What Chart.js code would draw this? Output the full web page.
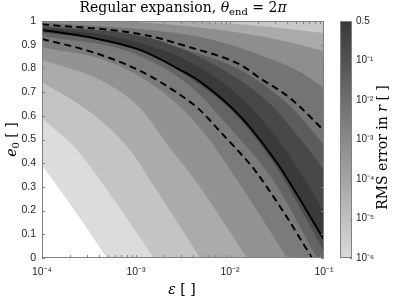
<!DOCTYPE html>
<html>
<head>
<meta charset="utf-8">
<script src="https://cdn.jsdelivr.net/npm/chart.js@4.4.1/dist/chart.umd.min.js"></script>
<style>
html, body { margin: 0; padding: 0; background: #fff; }
#wrap { position: relative; width: 399px; height: 299px; }
#main { position: absolute; left: 0; top: 0; }
#cbar { position: absolute; left: 330px; top: 0; }
</style>
</head>
<body>
<div id="wrap">
  <canvas id="main" width="399" height="299"></canvas>
  <canvas id="cbar" width="69" height="299"></canvas>
</div>
<script>
// axis ticks
const xTicks = [1e-4, 1e-3, 1e-2, 1e-1];
const xTickLabels = ['10⁻⁴', '10⁻³', '10⁻²', '10⁻¹'];
const yTicks = [0, 0.1, 0.2, 0.3, 0.4, 0.5, 0.6, 0.7, 0.8, 0.9, 1];
const yTickLabels = ['0', '0.1', '0.2', '0.3', '0.4', '0.5', '0.6', '0.7', '0.8', '0.9', '1'];
const cbTickLabels = ['10⁻⁶', '10⁻⁵', '10⁻⁴', '10⁻³', '10⁻²', '10⁻¹', '0.5'];

// solid and dashed curves (epsilon, e0)
const solidEps = [1e-4, 3.24e-4, 1.1e-3, 2.94e-3, 4.8e-3, 1.28e-2, 3.4e-2, 4.68e-2, 0.1];
const solidE0 = [0.962, 0.931, 0.878, 0.794, 0.744, 0.598, 0.383, 0.295, 0.077];
const dashHiEps = [1e-4, 1.1e-3, 3.75e-3, 1.28e-2, 2.08e-2, 4.35e-2, 0.1];
const dashHiE0 = [0.986, 0.945, 0.889, 0.816, 0.759, 0.675, 0.538];
const dashLoEps = [1e-4, 3.24e-4, 1.1e-3, 2.94e-3, 4.8e-3, 7.83e-3, 1.28e-2, 1.76e-2, 3.66e-2, 7.45e-2];
const dashLoE0 = [0.924, 0.872, 0.790, 0.689, 0.624, 0.534, 0.443, 0.380, 0.198, 0];

// filled contour boundaries, lower left to upper right
const l1Eps = [1e-4, 2.24e-4, 4.9e-4];
const l1E0 = [0.392, 0.198, 0];
const l2Eps = [1e-4, 2.36e-4, 4.14e-4, 1.55e-3];
const l2E0 = [0.591, 0.456, 0.329, 0];
const l3Eps = [1e-4, 3.24e-4, 8.63e-4, 1.41e-3, 4.8e-3];
const l3E0 = [0.743, 0.616, 0.456, 0.329, 0];
const l4Eps = [1e-4, 4.14e-4, 1.1e-3, 2.3e-3, 4.24e-3, 1.52e-2];
const l4E0 = [0.835, 0.751, 0.633, 0.464, 0.329, 0];
const l5Eps = [1e-4, 5.29e-4, 1.8e-3, 4.8e-3, 1.19e-2, 4.04e-2];
const l5E0 = [0.890, 0.827, 0.709, 0.549, 0.329, 0];
const l6Eps = [1e-4, 8.63e-4, 3.75e-3, 1.0e-2, 2.87e-2, 8.43e-2];
const l6E0 = [0.937, 0.869, 0.726, 0.549, 0.329, 0];
const l7Eps = [1e-4, 4.14e-4, 1.41e-3, 3.75e-3, 1.13e-2, 3.01e-2, 5.56e-2, 0.1];
const l7E0 = [0.951, 0.920, 0.861, 0.759, 0.608, 0.392, 0.211, 0.025];
const u7Eps = [1e-4, 6.76e-4, 3.75e-3, 1.28e-2, 3.4e-2, 7.1e-2, 0.1];
const u7E0 = [0.970, 0.928, 0.827, 0.679, 0.489, 0.295, 0.194];
const u6Eps = [1e-4, 1.41e-3, 7.83e-3, 2.67e-2, 6.28e-2, 0.1];
const u6E0 = [0.977, 0.928, 0.802, 0.650, 0.477, 0.371];
const u5Eps = [1e-4, 1.1e-3, 3.75e-3, 1.28e-2, 4.35e-2, 0.1];
const u5E0 = [0.981, 0.937, 0.873, 0.793, 0.641, 0.477];
const u4Eps = [1e-4, 1.1e-3, 4.8e-3, 2.08e-2, 5.56e-2, 0.1];
const u4E0 = [0.994, 0.966, 0.932, 0.857, 0.785, 0.717];
const u3Eps = [1e-4, 1.41e-3, 7.83e-3, 3.4e-2, 0.1];
const u3E0 = [1.002, 0.992, 0.962, 0.920, 0.873];
const u2Eps = [1e-4, 1.41e-3, 1.63e-2, 0.1];
const u2E0 = [1.008, 1.002, 0.983, 0.949];

// grey of the band just below each boundary, plus the top band
const boundaries = [
  [l1Eps, l1E0, '#ffffff'],
  [l2Eps, l2E0, '#dcdcdc'],
  [l3Eps, l3E0, '#c4c4c4'],
  [l4Eps, l4E0, '#ababab'],
  [l5Eps, l5E0, '#939393'],
  [l6Eps, l6E0, '#7b7b7b'],
  [l7Eps, l7E0, '#646464'],
  [solidEps, solidE0, '#4e4e4e'],
  [u7Eps, u7E0, '#3a3a3a'],
  [u6Eps, u6E0, '#484848'],
  [u5Eps, u5E0, '#5c5c5c'],
  [u4Eps, u4E0, '#747474'],
  [u3Eps, u3E0, '#8e8e8e'],
  [u2Eps, u2E0, '#aaaaaa'],
  [[1e-4, 0.1], [1.1, 1.1], '#c8c8c8']
];

function pts(xs, ys) {
  return xs.map((x, i) => ({ x: x, y: ys[i] }));
}

const datasets = boundaries.map(b => ({
  data: pts(b[0], b[1]),
  backgroundColor: b[2],
  borderColor: 'rgba(0,0,0,0)',
  borderWidth: 1,
  fill: 'start',
  pointRadius: 0,
  cubicInterpolationMode: 'monotone'
}));
datasets.push({
  data: pts(solidEps, solidE0), borderColor: '#000', borderWidth: 2, fill: false,
  pointRadius: 0, cubicInterpolationMode: 'monotone', order: -1
});
datasets.push({
  data: pts(dashHiEps, dashHiE0), borderColor: '#000', borderWidth: 2, borderDash: [7, 4.5],
  fill: false, pointRadius: 0, cubicInterpolationMode: 'monotone', order: -1
});
datasets.push({
  data: pts(dashLoEps, dashLoE0), borderColor: '#000', borderWidth: 2, borderDash: [7, 4.5],
  fill: false, pointRadius: 0, cubicInterpolationMode: 'monotone', order: -1
});

const serif = 'DejaVu Serif';
const sans = 'Liberation Sans';

function drawParts(ctx, parts, x, y) {
  let w = 0;
  parts.forEach(p => { ctx.font = p.f; w += ctx.measureText(p.t).width; });
  let cx = x - w / 2;
  parts.forEach(p => {
    ctx.font = p.f;
    ctx.fillText(p.t, cx, y + (p.dy || 0));
    cx += ctx.measureText(p.t).width;
  });
}

const frame = {
  id: 'frame',
  afterDraw(chart) {
    const ctx = chart.ctx;
    const a = chart.chartArea;
    const xs = chart.scales.x, ys = chart.scales.y;
    ctx.save();
    ctx.strokeStyle = '#808080';
    ctx.lineWidth = 1;
    ctx.strokeRect(a.left + 0.5, a.top + 0.5, a.right - a.left - 1, a.bottom - a.top - 1);
    ctx.beginPath();
    for (let d = -4; d < -1; d++) {
      for (let m = 1; m < 10; m++) {
        const px = Math.round(xs.getPixelForValue(m * Math.pow(10, d))) + 0.5;
        ctx.moveTo(px, a.bottom); ctx.lineTo(px, a.bottom - 3);
        ctx.moveTo(px, a.top); ctx.lineTo(px, a.top + 3);
      }
    }
    yTicks.forEach(v => {
      const py = Math.round(ys.getPixelForValue(v)) + 0.5;
      ctx.moveTo(a.left, py); ctx.lineTo(a.left + 3, py);
      ctx.moveTo(a.right, py); ctx.lineTo(a.right - 3, py);
    });
    ctx.stroke();

    ctx.fillStyle = '#000';
    ctx.textBaseline = 'alphabetic';
    const cx = (a.left + a.right) / 2;
    drawParts(ctx, [
      { t: 'Regular expansion, ', f: '14px ' + serif },
      { t: 'θ', f: 'italic 14px ' + serif },
      { t: 'end', f: '10px ' + serif, dy: 3 },
      { t: ' = 2', f: '14px ' + serif },
      { t: 'π', f: 'italic 14px ' + serif }
    ], cx, 12);
    drawParts(ctx, [
      { t: 'ε', f: 'italic 14px ' + serif },
      { t: ' [ ]', f: '14px ' + serif }
    ], cx - 1, 294);
    ctx.translate(16, (a.top + a.bottom) / 2);
    ctx.rotate(-Math.PI / 2);
    drawParts(ctx, [
      { t: 'e', f: 'italic 14px ' + serif },
      { t: '0', f: '10px ' + serif, dy: 3 },
      { t: ' [ ]', f: '14px ' + serif }
    ], 0, 0);
    ctx.restore();
  }
};

new Chart(document.getElementById('main'), {
  type: 'line',
  data: { datasets: datasets },
  options: {
    responsive: false,
    animation: false,
    layout: { padding: { top: 21, right: 75, left: 0, bottom: 0 } },
    plugins: { legend: { display: false }, tooltip: { enabled: false } },
    scales: {
      x: {
        type: 'logarithmic', min: 1e-4, max: 0.1,
        grid: { display: false, drawTicks: false }, border: { display: false },
        afterBuildTicks: s => { s.ticks = xTicks.map(v => ({ value: v })); },
        afterFit: s => { s.height = 41; },
        ticks: {
          autoSkip: false, maxRotation: 0, padding: 8, color: '#262626',
          font: { family: sans, size: 10.5 },
          callback: (v, i) => xTickLabels[i]
        }
      },
      y: {
        min: 0, max: 1,
        grid: { display: false, drawTicks: false }, border: { display: false },
        afterBuildTicks: s => { s.ticks = yTicks.map(v => ({ value: v })); },
        afterFit: s => { s.width = 42; },
        ticks: {
          autoSkip: false, padding: 6, color: '#262626',
          font: { family: sans, size: 10.5 },
          callback: (v, i) => yTickLabels[i]
        }
      }
    }
  },
  plugins: [frame]
});

// colorbar
const cbLow = '#dadada';
const cbHigh = '#383838';
const cbPaint = {
  id: 'cbPaint',
  beforeDraw(chart) {
    const ctx = chart.ctx;
    const a = chart.chartArea;
    ctx.save();
    const g = ctx.createLinearGradient(0, a.bottom, 0, a.top);
    g.addColorStop(0, cbLow);
    g.addColorStop(1, cbHigh);
    ctx.fillStyle = g;
    ctx.fillRect(a.left, a.top, a.right - a.left, a.bottom - a.top);
    ctx.strokeStyle = '#808080';
    ctx.lineWidth = 1;
    ctx.strokeRect(a.left + 0.5, a.top + 0.5, a.right - a.left - 1, a.bottom - a.top - 1);
    const ys = chart.scales.y;
    ctx.beginPath();
    cbTickLabels.forEach((t, i) => {
      const py = Math.round(ys.getPixelForValue(i)) + 0.5;
      ctx.moveTo(a.right, py); ctx.lineTo(a.right - 2, py);
    });
    ctx.stroke();
    ctx.restore();
  },
  afterDraw(chart) {
    const ctx = chart.ctx;
    const a = chart.chartArea;
    ctx.save();
    ctx.fillStyle = '#000';
    ctx.textBaseline = 'alphabetic';
    ctx.translate(57, (a.top + a.bottom) / 2 + 8);
    ctx.rotate(-Math.PI / 2);
    drawParts(ctx, [
      { t: 'RMS error in ', f: '14px ' + serif },
      { t: 'r', f: 'italic 14px ' + serif },
      { t: ' [ ]', f: '14px ' + serif }
    ], 0, 0);
    ctx.restore();
  }
};

new Chart(document.getElementById('cbar'), {
  type: 'bar',
  data: { labels: [''], datasets: [] },
  options: {
    responsive: false,
    animation: false,
    layout: { padding: { top: 21, bottom: 41, left: 10, right: 0 } },
    plugins: { legend: { display: false }, tooltip: { enabled: false } },
    scales: {
      x: { display: false },
      y: {
        position: 'right', min: 0, max: cbTickLabels.length - 1,
        grid: { display: false, drawTicks: false }, border: { display: false },
        afterBuildTicks: s => { s.ticks = cbTickLabels.map((t, i) => ({ value: i })); },
        afterFit: s => { s.width = 47; },
        ticks: {
          autoSkip: false, padding: 4, color: '#262626',
          font: { family: sans, size: 10 },
          callback: (v, i) => cbTickLabels[i]
        }
      }
    }
  },
  plugins: [cbPaint]
});
</script>
</body>
</html>
